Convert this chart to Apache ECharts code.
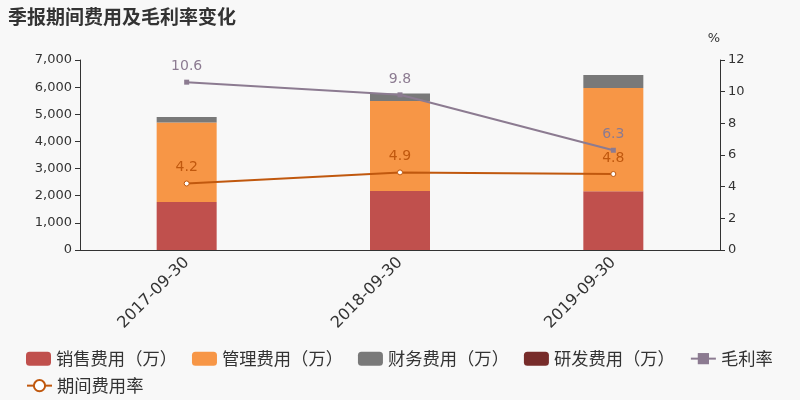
<!DOCTYPE html>
<html><head><meta charset="utf-8">
<script src="https://cdn.jsdelivr.net/npm/echarts@6/dist/echarts.min.js"></script>
<style>html,body{margin:0;padding:0;background:#f8f8f8;}#c{width:800px;height:400px;}</style>
</head><body><div id="c"></div>
<script>
var categories = ['2017-09-30', '2018-09-30', '2019-09-30'];
var salesExp = [1770, 2170, 2160];
var adminExp = [2930, 3320, 3810];
var finExp = [200, 280, 480];
var rdExp = [null, null, null];
var grossMargin = [10.6, 9.8, 6.3];
var expenseRate = [4.2, 4.9, 4.8];
var leftTicks = [0, 7000, 1000];
var rightTicks = [0, 12, 2];

var font = 'DejaVu Sans, Noto Sans CJK SC, sans-serif';
var chart = echarts.init(document.getElementById('c'));
function barS(name, data, color) {
  return { name: name, type: 'bar', stack: 'a', data: data, barWidth: 60,
    itemStyle: { color: color } };
}
var legendBase = {
  left: 21, itemWidth: 25, itemHeight: 14, itemGap: 15,
  textStyle: { fontSize: 17.3, color: '#333', fontFamily: 'Noto Sans CJK SC' }
};
chart.setOption({
  backgroundColor: '#f8f8f8',
  animation: false,
  textStyle: { fontFamily: font },
  title: { text: '季报期间费用及毛利率变化', left: 3, top: 2,
    textStyle: { fontSize: 19, fontWeight: 'bold', color: '#333', fontFamily: 'Noto Sans CJK SC' } },
  grid: { left: 80, right: 80, top: 60, bottom: 150 },
  legend: [
    Object.assign({}, legendBase, { top: 345, data: [
      { name: '销售费用（万）', icon: 'roundRect' },
      { name: '管理费用（万）', icon: 'roundRect' },
      { name: '财务费用（万）', icon: 'roundRect' },
      { name: '研发费用（万）', icon: 'roundRect' },
      { name: '毛利率' }
    ] }),
    Object.assign({}, legendBase, { top: 372, data: [ { name: '期间费用率' } ] })
  ],
  xAxis: {
    type: 'category', data: categories,
    axisLine: { lineStyle: { color: '#333' } },
    axisTick: { lineStyle: { color: '#333' } },
    axisLabel: { rotate: 45, fontSize: 16, color: '#333', margin: 10 }
  },
  yAxis: [
    { type: 'value', min: leftTicks[0], max: leftTicks[1], interval: leftTicks[2],
      axisLine: { show: true, lineStyle: { color: '#333' } },
      axisTick: { show: true },
      splitLine: { show: false },
      axisLabel: { fontSize: 13, color: '#333',
        formatter: function (v) { return v.toLocaleString('en-US'); } } },
    { type: 'value', name: '%', min: rightTicks[0], max: rightTicks[1], interval: rightTicks[2],
      nameTextStyle: { fontSize: 13, color: '#333', padding: [0, 0, 0, -12] },
      axisLine: { show: true, lineStyle: { color: '#333' } },
      axisTick: { show: true },
      splitLine: { show: false },
      axisLabel: { fontSize: 13, color: '#333' } }
  ],
  series: [
    barS('销售费用（万）', salesExp, '#c0504d'),
    barS('管理费用（万）', adminExp, '#f79646'),
    barS('财务费用（万）', finExp, '#797979'),
    barS('研发费用（万）', rdExp, '#772c2a'),
    { name: '毛利率', type: 'line', yAxisIndex: 1, data: grossMargin,
      symbol: 'rect', symbolSize: 5,
      lineStyle: { color: '#8c7b91', width: 2 }, itemStyle: { color: '#8c7b91' },
      label: { show: true, position: 'top', distance: 6, fontSize: 14, color: '#8c7b91' } },
    { name: '期间费用率', type: 'line', yAxisIndex: 1, data: expenseRate,
      symbol: 'circle', symbolSize: 5,
      lineStyle: { color: '#c0580e', width: 2 },
      itemStyle: { color: '#fff', borderColor: '#c0580e', borderWidth: 1 },
      label: { show: true, position: 'top', distance: 6, fontSize: 14, color: '#c0580e' } }
  ]
});
</script></body></html>
